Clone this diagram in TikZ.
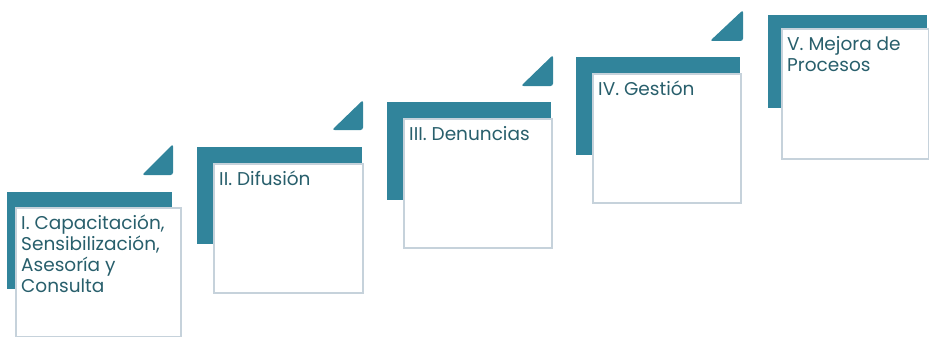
\documentclass[tikz,border=0pt]{standalone}
\usepackage{fontspec}
\setmainfont{Poppins}
\definecolor{teal1}{HTML}{31849B}
\definecolor{txt}{HTML}{285F6C}
\definecolor{edge}{HTML}{C6D2DB}
\begin{document}
\begin{tikzpicture}[x=1pt,y=-1pt,
  band/.style={fill=teal1},
  card/.style={draw=edge,line width=1.6pt,fill=white,inner sep=0pt,anchor=north west},
  lbl/.style={anchor=north west,inner sep=0pt,text=txt,align=left,font=\fontsize{18.5}{20.8}\selectfont},
  tri/.style={fill=teal1,rounded corners=2.5pt}]
\useasboundingbox (0,0) rectangle (929,337);
% step 1
\fill[band] (7,192) rectangle (172,289);
\node[card,minimum width=165pt,minimum height=129pt] (b1) at (15,207) {};
\node[lbl] (t1) at ([xshift=6pt,yshift=-8pt]b1.north west) {I. Capacitación,\\Sensibilización,\\Asesoría y\\Consulta};
\fill[tri] (142,175) -- (173,175) -- (173,144) -- cycle;
% step 2
\fill[band] (197,147) rectangle (362,244);
\node[card,minimum width=149pt,minimum height=129pt] (b2) at (213,163) {};
\node[lbl] (t2) at ([xshift=6pt,yshift=-8pt]b2.north west) {II. Difusión};
\fill[tri] (332,130) -- (363,130) -- (363,100) -- cycle;
% step 3
\fill[band] (387,102) rectangle (551,200);
\node[card,minimum width=148pt,minimum height=129pt] (b3) at (403,118) {};
\node[lbl] (t3) at ([xshift=6pt,yshift=-8pt]b3.north west) {III. Denuncias};
\fill[tri] (521,86) -- (553,86) -- (553,55) -- cycle;
% step 4
\fill[band] (576,57) rectangle (740,155);
\node[card,minimum width=148pt,minimum height=129pt] (b4) at (592,73) {};
\node[lbl] (t4) at ([xshift=6pt,yshift=-8pt]b4.north west) {IV. Gestión};
\fill[tri] (710,41) -- (743,41) -- (743,10) -- cycle;
% step 5
\fill[band] (768,15) rectangle (927,108);
\node[card,minimum width=147pt,minimum height=130pt] (b5) at (781,28) {};
\node[lbl] (t5) at ([xshift=6pt,yshift=-8pt]b5.north west) {V. Mejora de\\Procesos};
\end{tikzpicture}
\end{document}
